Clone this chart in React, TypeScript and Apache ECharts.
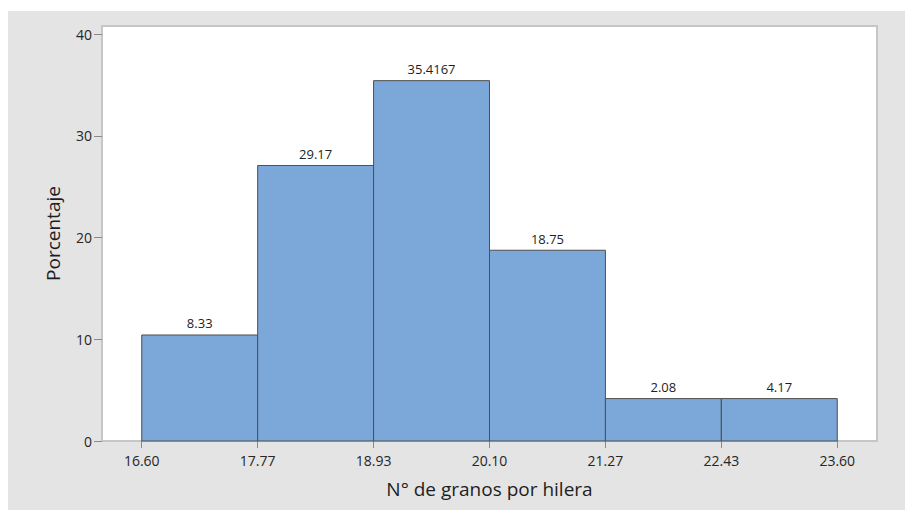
import React, { useEffect, useRef } from "react";
import * as echarts from "echarts";

const binEdges = [16.6, 17.7667, 18.9333, 20.1, 21.2667, 22.4333, 23.6];
const tickLabels = ["16.60", "17.77", "18.93", "20.10", "21.27", "22.43", "23.60"];
const barHeights = [10.42, 27.08, 35.42, 18.75, 4.17, 4.17];
const barLabels = ["8.33", "29.17", "35.4167", "18.75", "2.08", "4.17"];
const yTicks = [0, 10, 20, 30, 40];
const xTitle = "N° de granos por hilera";
const yTitle = "Porcentaje";

const FONT = "'Open Sans', 'Noto Sans', sans-serif";

export default function App() {
  const ref = useRef<HTMLDivElement>(null);
  useEffect(() => {
    document.body.style.margin = "0";
    const chart = echarts.init(ref.current!, null, { renderer: "svg" });
    const data = barHeights.map((h, i) => [binEdges[i], binEdges[i + 1], h]);
    chart.setOption({
      animation: false,
      textStyle: { fontFamily: FONT },
      grid: {
        left: 102,
        top: 26,
        width: 775,
        height: 415,
        show: true,
        backgroundColor: "#ffffff",
        borderColor: "#c6c6c6",
        borderWidth: 2,
      },
      xAxis: {
        type: "value",
        min: 16.2,
        max: 24.0,
        name: xTitle,
        nameLocation: "middle",
        nameGap: 38,
        nameTextStyle: { fontSize: 19, color: "#1e1e1e", fontFamily: FONT },
        axisLine: { show: false },
        splitLine: { show: false },
        axisTick: {
          show: true,
          length: 7,
          customValues: binEdges,
          lineStyle: { color: "#8a8a8a" },
        },
        axisLabel: {
          customValues: binEdges,
          formatter: (v: number) => {
            const i = binEdges.findIndex((e) => Math.abs(e - v) < 1e-6);
            return i >= 0 ? tickLabels[i] : "";
          },
          margin: 12,
          fontSize: 14,
          color: "#262626",
          fontFamily: FONT,
        },
      },
      yAxis: {
        type: "value",
        min: 0,
        max: 40.79,
        name: yTitle,
        nameLocation: "middle",
        nameRotate: 90,
        nameGap: 40,
        nameTextStyle: { fontSize: 19, color: "#1e1e1e", fontFamily: FONT },
        axisLine: { show: false },
        splitLine: { show: false },
        axisTick: {
          show: true,
          length: 8,
          customValues: yTicks,
          lineStyle: { color: "#8a8a8a" },
        },
        axisLabel: {
          customValues: yTicks,
          margin: 10,
          fontSize: 14,
          color: "#262626",
          fontFamily: FONT,
        },
      },
      series: [
        {
          type: "custom",
          data,
          renderItem: (params: any, api: any) => {
            const x0 = api.value(0);
            const x1 = api.value(1);
            const h = api.value(2);
            const p0 = api.coord([x0, h]);
            const p1 = api.coord([x1, 0]);
            return {
              type: "group",
              children: [
                {
                  type: "rect",
                  shape: {
                    x: p0[0],
                    y: p0[1],
                    width: p1[0] - p0[0],
                    height: p1[1] - p0[1],
                  },
                  style: { fill: "#7ba7d9", stroke: "#4f4f4f", lineWidth: 1 },
                },
                {
                  type: "text",
                  style: {
                    text: barLabels[params.dataIndex],
                    x: (p0[0] + p1[0]) / 2,
                    y: p0[1] - 5,
                    align: "center",
                    verticalAlign: "bottom",
                    fill: "#1e1e1e",
                    fontSize: 13,
                    fontFamily: FONT,
                  },
                },
              ],
            };
          },
        },
      ],
    });
    return () => chart.dispose();
  }, []);

  return (
    <div style={{ position: "relative", width: 905, height: 510, background: "#ffffff", overflow: "hidden" }}>
      <div
        style={{
          position: "absolute",
          left: 8,
          top: 11,
          right: 0,
          bottom: 0,
          background: "#e4e4e4",
        }}
      />
      <div ref={ref} style={{ position: "absolute", left: 0, top: 0, width: 905, height: 510 }} />
    </div>
  );
}
